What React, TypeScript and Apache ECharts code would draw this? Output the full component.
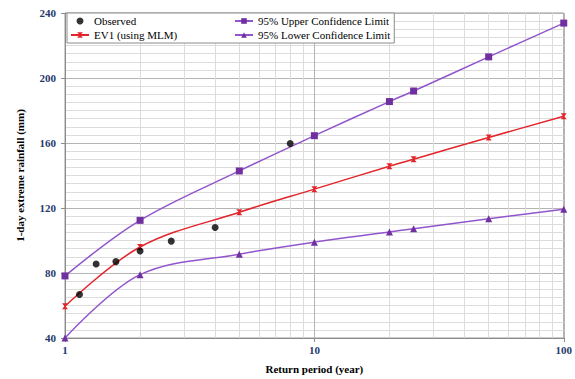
import React, { useEffect, useRef } from "react";
import * as echarts from "echarts";

const returnPeriods = [1, 2, 5, 10, 20, 25, 50, 100];
const ev1Values = [59.5, 96, 117.4, 131.6, 145.7, 150, 163.4, 176.5];
const upperValues = [78.2, 112.4, 142.8, 164.5, 185.5, 192, 213, 233.8];
const lowerValues = [40, 79, 91.6, 99, 105.2, 107.3, 113.4, 119.3];
const observedPeriods = [1.143, 1.333, 1.6, 2, 2.667, 4, 8];
const observedValues = [66.8, 85.5, 87, 93.5, 99.6, 108, 159.7];
const minorXGrid = [2, 3, 4, 5, 6, 7, 8, 9, 20, 30, 40, 50, 60, 70, 80, 90];

const SERIF = "'Liberation Serif', 'DejaVu Serif', serif";
const PURPLE_LINE = "#9256CC";
const PURPLE_MARK = "#7030A0";
const RED = "#E3242B";

const NAME_OBS = "Observed";
const NAME_EV1 = "EV1 (using MLM)";
const NAME_UP = "95% Upper Confidence Limit";
const NAME_LOW = "95% Lower Confidence Limit";

export default function App() {
  const ref = useRef<HTMLDivElement>(null);
  useEffect(() => {
    if (!ref.current) return;
    const chart = echarts.init(ref.current, undefined, { renderer: "svg" });
    const pair = (xs: number[], ys: number[]) => xs.map((x, i) => [x, ys[i]]);
    const font = { fontFamily: SERIF, fontSize: 11, color: "#000", lineHeight: 12 };
    chart.setOption({
      animation: false,
      backgroundColor: "#fff",
      grid: {
        left: 65,
        top: 13,
        width: 501,
        height: 328,
        show: true,
        borderColor: "#9A9A9A",
        borderWidth: 1,
        backgroundColor: "transparent",
      },
      xAxis: {
        type: "log",
        logBase: 10,
        min: 1,
        max: 100,
        name: "Return period (year)",
        nameLocation: "middle",
        nameGap: 25,
        nameTextStyle: { fontFamily: SERIF, fontWeight: "bold", fontSize: 11, color: "#000" },
        axisLine: { show: true, lineStyle: { color: "#8C8C8C", width: 1 } },
        axisTick: { show: true, length: 4, inside: false, lineStyle: { color: "#8C8C8C" } },
        axisLabel: {
          margin: 6,
          fontFamily: SERIF,
          fontWeight: "bold",
          fontSize: 11,
          color: "#1F3A6E",
          formatter: (v: number) => String(Math.round(v)),
        },
        splitLine: { show: true, lineStyle: { color: "#B4B4B4", width: 1 } },
        minorTick: { show: false },
        minorSplitLine: { show: false },
      },
      yAxis: {
        type: "value",
        min: 40,
        max: 240,
        interval: 40,
        name: "1-day extreme rainfall (mm)",
        nameLocation: "middle",
        nameGap: 40,
        nameRotate: 90,
        nameTextStyle: { fontFamily: SERIF, fontWeight: "bold", fontSize: 11, color: "#000" },
        axisLine: { show: true, lineStyle: { color: "#8C8C8C", width: 1 } },
        axisTick: { show: true, length: 4, lineStyle: { color: "#8C8C8C" } },
        axisLabel: {
          margin: 9,
          fontFamily: SERIF,
          fontWeight: "bold",
          fontSize: 11,
          color: "#1F3A6E",
        },
        splitLine: { show: true, lineStyle: { color: "#B4B4B4", width: 1 } },
        minorTick: { show: false, splitNumber: 8 },
        minorSplitLine: { show: true, lineStyle: { color: "#DCDCDC", width: 1 } },
      },
      legend: {
        left: 67,
        top: 13,
        width: 330,
        orient: "horizontal",
        padding: [2, 4, 2, 3],
        itemGap: 2,
        itemWidth: 18,
        itemHeight: 7,
        backgroundColor: "#fff",
        borderColor: "#8C8C8C",
        borderWidth: 1,
        z: 6,
        textStyle: {
          ...font,
          rich: {
            c1: { ...font, width: 138 },
            c2: { ...font },
          },
        },
        formatter: (name: string) =>
          name === NAME_OBS || name === NAME_EV1 ? `{c1|${name}}` : `{c2|${name}}`,
        data: [{ name: NAME_OBS, icon: "circle" }, { name: NAME_UP }, { name: NAME_EV1 }, { name: NAME_LOW }],
      },
      series: [
        {
          name: "gridlines",
          type: "line",
          data: [],
          z: 1,
          silent: true,
          markLine: {
            z: 1,
            silent: true,
            symbol: ["none", "none"],
            label: { show: false },
            lineStyle: { color: "#DCDCDC", width: 1, type: "solid" },
            data: minorXGrid.map((x) => ({ xAxis: x })),
          },
        },
        {
          name: NAME_UP,
          type: "line",
          z: 3,
          smooth: 0.35,
          data: pair(returnPeriods, upperValues),
          symbol: "rect",
          symbolSize: 7,
          lineStyle: { color: PURPLE_LINE, width: 1.5 },
          itemStyle: { color: PURPLE_MARK },
        },
        {
          name: NAME_EV1,
          type: "line",
          z: 3,
          smooth: 0.35,
          data: pair(returnPeriods, ev1Values),
          symbol: "path://M0,0 L10,0 L6,5 L10,10 L0,10 L4,5 Z",
          symbolSize: 6,
          lineStyle: { color: RED, width: 1.5 },
          itemStyle: { color: RED },
        },
        {
          name: NAME_LOW,
          type: "line",
          z: 3,
          smooth: 0.35,
          data: pair(returnPeriods, lowerValues),
          symbol: "triangle",
          symbolSize: 7,
          lineStyle: { color: PURPLE_LINE, width: 1.5 },
          itemStyle: { color: PURPLE_MARK },
        },
        {
          name: NAME_OBS,
          type: "scatter",
          z: 4,
          data: pair(observedPeriods, observedValues),
          symbol: "circle",
          symbolSize: 7,
          itemStyle: { color: "#000" },
        },
      ],
    });
    return () => chart.dispose();
  }, []);
  return <div ref={ref} style={{ width: 575, height: 379, position: "absolute", left: 0, top: 0 }} />;
}
